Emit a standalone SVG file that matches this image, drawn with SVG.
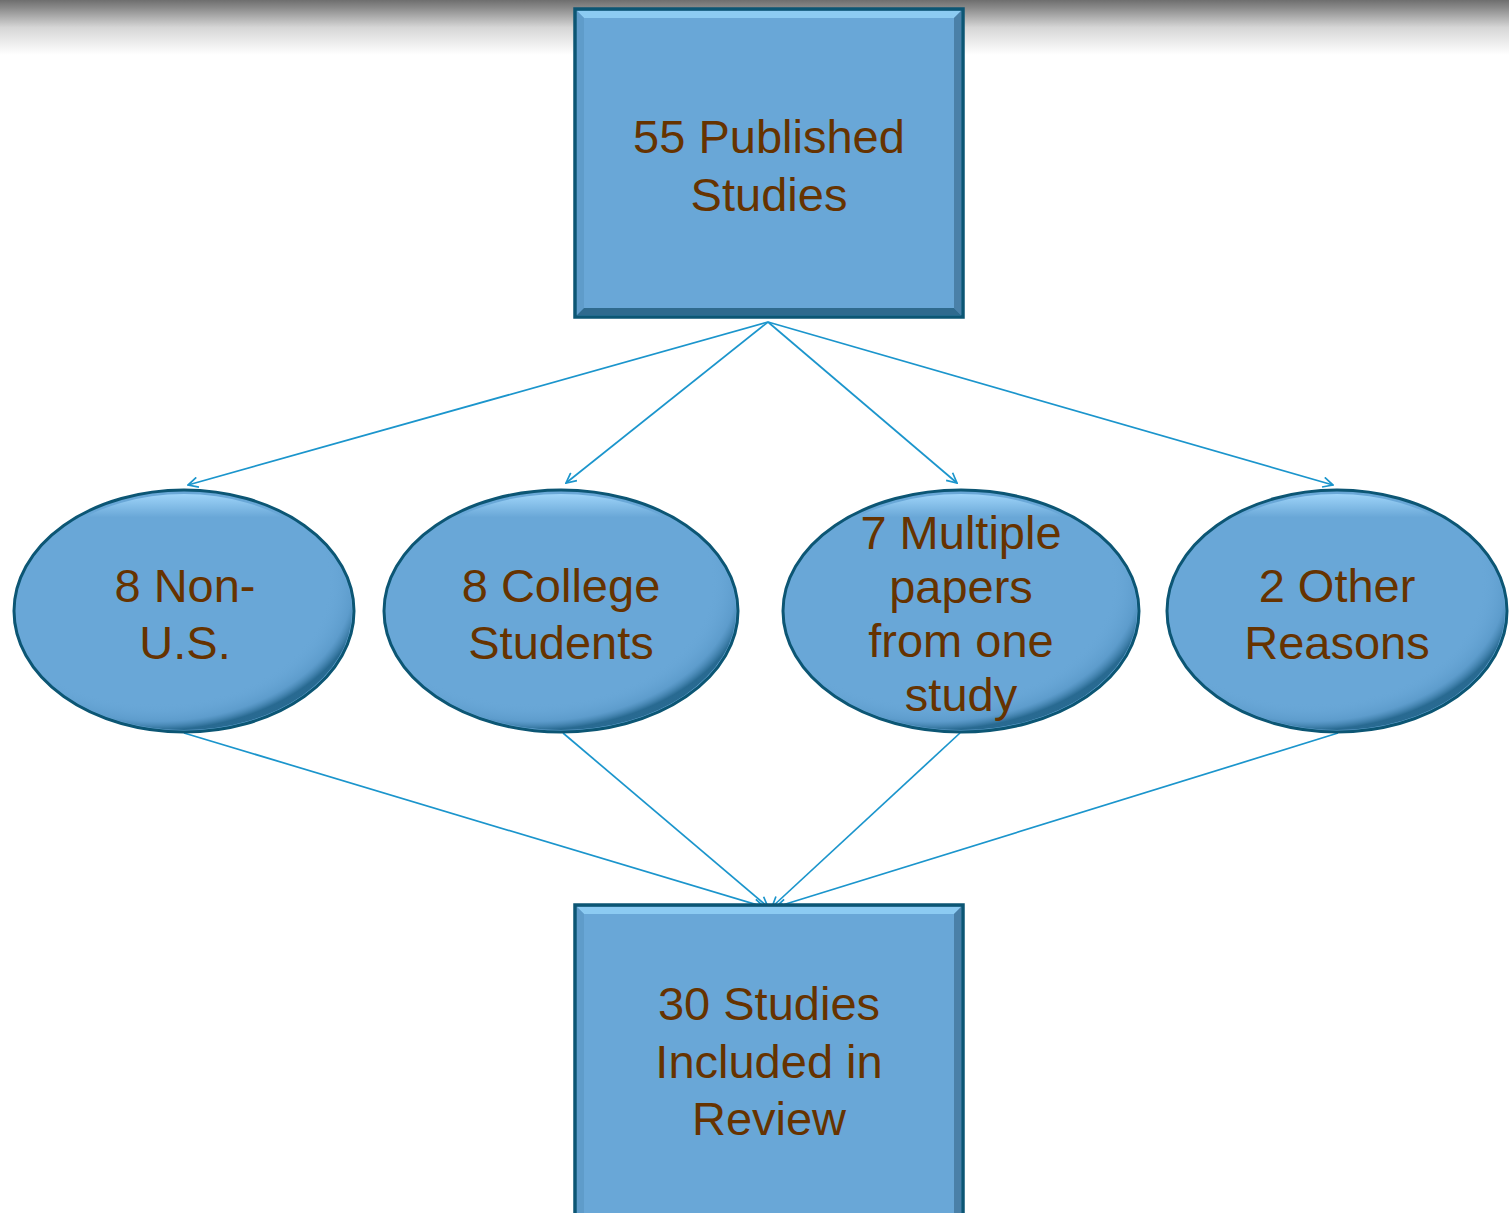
<svg xmlns="http://www.w3.org/2000/svg" width="1509" height="1213" viewBox="0 0 1509 1213">
  <style>
    .lbl { font-family: "Liberation Sans", Arial, sans-serif; font-size: 47px; fill: #663300; text-anchor: middle; }
    .box { fill: #69a7d7; stroke: #0c5674; stroke-width: 3.5; }
    .ell { fill: #69a7d7; stroke: #0c5674; stroke-width: 3; }
    .conn { stroke: #1b95cc; stroke-width: 1.7; fill: none; marker-end: url(#arr); }
  </style>
  <defs>
    <linearGradient id="topShade" x1="0" y1="0" x2="0" y2="1">
      <stop offset="0" stop-color="#6e6e6e"/>
      <stop offset="0.15" stop-color="#8c8c8c"/>
      <stop offset="0.5" stop-color="#d6d6d6"/>
      <stop offset="1" stop-color="#ffffff"/>
    </linearGradient>
    <radialGradient id="ellShade" cx="0.42" cy="0.38" r="0.62">
      <stop offset="0.82" stop-color="#69a7d7" stop-opacity="0"/>
      <stop offset="0.94" stop-color="#4f8fbf" stop-opacity="0.45"/>
      <stop offset="1" stop-color="#1d5f85" stop-opacity="0.85"/>
    </radialGradient>
    <linearGradient id="ellHi" x1="0" y1="0" x2="0" y2="1">
      <stop offset="0" stop-color="#a8dcff" stop-opacity="0.85"/>
      <stop offset="0.1" stop-color="#a8dcff" stop-opacity="0"/>
    </linearGradient>
    <marker id="arr" viewBox="0 0 12 12" refX="11" refY="6" markerWidth="12" markerHeight="12" orient="auto" markerUnits="userSpaceOnUse">
      <path d="M1,1 L11,6 L1,11" fill="none" stroke="#1b95cc" stroke-width="1.7"/>
    </marker>
  </defs>

  <rect x="0" y="0" width="1509" height="55" fill="url(#topShade)"/>

  <g id="connectors">
    <line class="conn" x1="768" y1="322" x2="188" y2="485"/>
    <line class="conn" x1="768" y1="322" x2="566" y2="483"/>
    <line class="conn" x1="768" y1="322" x2="957" y2="483"/>
    <line class="conn" x1="768" y1="322" x2="1333" y2="485"/>
    <line class="conn" x1="184" y1="733" x2="764" y2="907"/>
    <line class="conn" x1="563" y1="733" x2="768" y2="907"/>
    <line class="conn" x1="960" y1="733" x2="772" y2="907"/>
    <line class="conn" x1="1338" y1="733" x2="776" y2="907"/>
  </g>

  <g id="node-top">
    <rect class="box" x="575" y="9" width="388" height="308"/>
    <polygon points="577,11 961,11 954,18 584,18" fill="#8ccbf2"/>
    <polygon points="577,11 584,18 584,308 577,315" fill="#5f9cca"/>
    <polygon points="961,11 961,315 954,308 954,18" fill="#4a80a8"/>
    <polygon points="577,315 584,308 954,308 961,315" fill="#2f6a8e"/>
    <text class="lbl" x="769" y="153">55 Published</text>
    <text class="lbl" x="769" y="211">Studies</text>
  </g>

  <g id="node-nonus">
    <ellipse class="ell" cx="184" cy="611" rx="170" ry="121"/>
    <ellipse cx="184" cy="611" rx="168" ry="119" fill="url(#ellShade)"/>
    <ellipse cx="184" cy="611" rx="166" ry="117" fill="url(#ellHi)"/>
    <text class="lbl" x="185" y="602">8 Non-</text>
    <text class="lbl" x="185" y="659">U.S.</text>
  </g>

  <g id="node-college">
    <ellipse class="ell" cx="561" cy="611" rx="177" ry="121"/>
    <ellipse cx="561" cy="611" rx="175" ry="119" fill="url(#ellShade)"/>
    <ellipse cx="561" cy="611" rx="173" ry="117" fill="url(#ellHi)"/>
    <text class="lbl" x="561" y="602">8 College</text>
    <text class="lbl" x="561" y="659">Students</text>
  </g>

  <g id="node-multiple">
    <ellipse class="ell" cx="961" cy="611" rx="178" ry="121"/>
    <ellipse cx="961" cy="611" rx="176" ry="119" fill="url(#ellShade)"/>
    <ellipse cx="961" cy="611" rx="174" ry="117" fill="url(#ellHi)"/>
    <text class="lbl" x="961" y="549">7 Multiple</text>
    <text class="lbl" x="961" y="603">papers</text>
    <text class="lbl" x="961" y="657">from one</text>
    <text class="lbl" x="961" y="711">study</text>
  </g>

  <g id="node-other">
    <ellipse class="ell" cx="1337" cy="611" rx="170" ry="121"/>
    <ellipse cx="1337" cy="611" rx="168" ry="119" fill="url(#ellShade)"/>
    <ellipse cx="1337" cy="611" rx="166" ry="117" fill="url(#ellHi)"/>
    <text class="lbl" x="1337" y="602">2 Other</text>
    <text class="lbl" x="1337" y="659">Reasons</text>
  </g>

  <g id="node-bottom">
    <rect class="box" x="575" y="905" width="388" height="320"/>
    <polygon points="577,907 961,907 954,914 584,914" fill="#8ccbf2"/>
    <polygon points="577,907 584,914 584,1213 577,1213" fill="#5f9cca"/>
    <polygon points="961,907 961,1213 954,1213 954,914" fill="#4a80a8"/>
    <text class="lbl" x="769" y="1020">30 Studies</text>
    <text class="lbl" x="769" y="1078">Included in</text>
    <text class="lbl" x="769" y="1135">Review</text>
  </g>
</svg>
